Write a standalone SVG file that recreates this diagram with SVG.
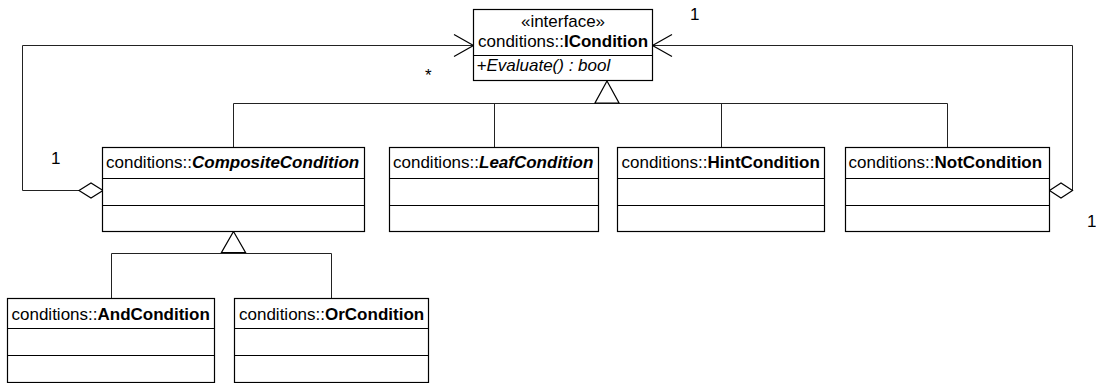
<svg xmlns="http://www.w3.org/2000/svg" width="1096" height="383" viewBox="0 0 1096 383">
  <style>
    .box { fill: #fff; stroke: #000; stroke-width: 1.2; }
    .sep { stroke: #000; stroke-width: 1.2; fill: none; }
    .edge { fill: none; stroke: #222; stroke-width: 1; }
    .tri { fill: #fff; stroke: #000; stroke-width: 1.2; }
    .dia { fill: #fff; stroke: #000; stroke-width: 1.2; }
    .head { fill: none; stroke: #000; stroke-width: 1.2; }
    text { font-family: "Liberation Sans", Arial, sans-serif; font-size: 17px; fill: #000; }
    .b { font-weight: bold; }
    .i { font-style: italic; }
  </style>

  <!-- connectors: generalization, aggregation and navigable association lines -->
  <g id="connectors">
    <!-- realization of ICondition by the four top classes -->
    <path class="edge" d="M233.5,103.5 H947.5 M233.5,103.5 V147.5 M494.5,103.5 V147.5 M721.5,103.5 V147.5 M947.5,103.5 V147.5"/>
    <polygon class="tri" points="607,81 619,103 595,103"/>
    <!-- CompositeCondition specializations -->
    <path class="edge" d="M111.5,253.5 H331.5 M111.5,253.5 V298.5 M331.5,253.5 V298.5"/>
    <polygon class="tri" points="233.5,231.5 245.5,252.5 221.5,252.5"/>
    <!-- CompositeCondition aggregates many ICondition -->
    <path class="edge" d="M79,190.5 H22.5 V45.5 H473.5"/>
    <polygon class="dia" points="79,190.5 91,183 103,190.5 91,198"/>
    <path class="head" d="M454,34.5 L473.5,45.5 L454,56.5"/>
    <!-- NotCondition aggregates one ICondition -->
    <path class="edge" d="M1072.5,190.5 V45.5 H652.5"/>
    <polygon class="dia" points="1049.5,190.5 1061,183 1072.5,190.5 1061,198"/>
    <path class="head" d="M672,34.5 L652.5,45.5 L672,56.5"/>
    <!-- multiplicities -->
    <text x="425" y="80.5">*</text>
    <text x="690" y="20">1</text>
    <text x="51" y="164">1</text>
    <text x="1087" y="227">1</text>
  </g>

  <g id="ICondition">
    <rect class="box" x="473.5" y="9.5" width="179" height="71"/>
    <line class="sep" x1="473.5" y1="55.5" x2="652.5" y2="55.5"/>
    <text x="563" y="26.5" text-anchor="middle">«interface»</text>
    <text x="563" y="46.5" text-anchor="middle">conditions::<tspan class="b">ICondition</tspan></text>
    <text class="i" x="476.5" y="70.5">+Evaluate() : bool</text>
  </g>

  <g id="CompositeCondition">
    <rect class="box" x="102.5" y="147.5" width="262" height="84"/>
    <path class="sep" d="M102.5,178.5 H364.5 M102.5,205.5 H364.5"/>
    <text x="106" y="167.5">conditions::<tspan class="b i">CompositeCondition</tspan></text>
  </g>

  <g id="LeafCondition">
    <rect class="box" x="389.5" y="147.5" width="209" height="84"/>
    <path class="sep" d="M389.5,178.5 H598.5 M389.5,205.5 H598.5"/>
    <text x="393" y="167.5">conditions::<tspan class="b i">LeafCondition</tspan></text>
  </g>

  <g id="HintCondition">
    <rect class="box" x="617.5" y="147.5" width="207" height="84"/>
    <path class="sep" d="M617.5,178.5 H824.5 M617.5,205.5 H824.5"/>
    <text x="621.5" y="167.5">conditions::<tspan class="b">HintCondition</tspan></text>
  </g>

  <g id="NotCondition">
    <rect class="box" x="845.5" y="147.5" width="204" height="84"/>
    <path class="sep" d="M845.5,178.5 H1049.5 M845.5,205.5 H1049.5"/>
    <text x="848.5" y="167.5">conditions::<tspan class="b">NotCondition</tspan></text>
  </g>

  <g id="AndCondition">
    <rect class="box" x="7.5" y="298.5" width="207" height="84"/>
    <path class="sep" d="M7.5,328.5 H214.5 M7.5,355.5 H214.5"/>
    <text x="11.5" y="319.5">conditions::<tspan class="b">AndCondition</tspan></text>
  </g>

  <g id="OrCondition">
    <rect class="box" x="234.5" y="298.5" width="194" height="84"/>
    <path class="sep" d="M234.5,328.5 H428.5 M234.5,355.5 H428.5"/>
    <text x="239" y="319.5">conditions::<tspan class="b">OrCondition</tspan></text>
  </g>
</svg>
